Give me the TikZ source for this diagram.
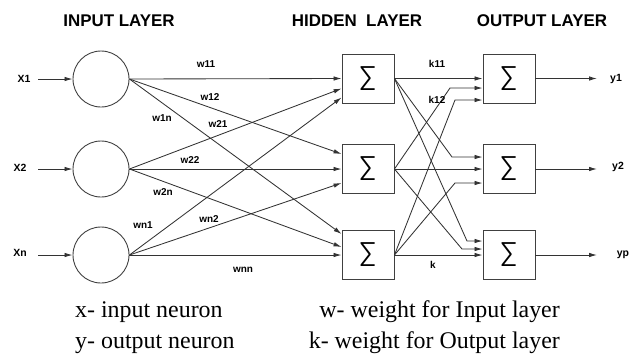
\documentclass[tikz,border=0pt]{standalone}
\usepackage{fontspec}
\setmainfont{Liberation Serif}
\setsansfont{Liberation Sans}
\newfontfamily\sigfont{Fira Sans Light}
\usetikzlibrary{arrows.meta,calc}
\begin{document}
\begin{tikzpicture}[x=1bp,y=-1bp,
  neuron/.style={circle,draw=black!75,line width=0.9bp,minimum size=56bp,inner sep=0},
  sumbox/.style={rectangle,draw=black!75,line width=0.9bp,minimum width=52bp,minimum height=49bp,inner sep=0,font=\sigfont\fontsize{35}{35}\selectfont},
  conn/.style={draw=black!80,line width=0.85bp},
  arr/.style={conn,-{Latex[length=8bp,width=4.5bp]}},
  title/.style={font=\sffamily\bfseries\fontsize{17}{17}\selectfont,inner sep=0,anchor=base},
  wlab/.style={font=\sffamily\bfseries\fontsize{10}{10}\selectfont,inner sep=0},
  iolab/.style={font=\sffamily\bfseries\fontsize{10.5}{10.5}\selectfont,inner sep=0},
  legend/.style={font=\fontsize{24}{24}\selectfont,inner sep=0}
]
\useasboundingbox (0,0) rectangle (634,358);
% titles
\node[title] (t1) at (119,26) {INPUT LAYER};
\node[title] (t2) at (357,26) {HIDDEN\ \ LAYER};
\node[title] (t3) at (542,26) {OUTPUT LAYER};
% input neurons
\node[neuron] (in1) at (101,79) {};
\node[neuron] (in2) at (101,169) {};
\node[neuron] (in3) at (101,255) {};
% hidden
\node[sumbox] (h1) at (368,78.5) {Σ};
\node[sumbox] (h2) at (368,169) {Σ};
\node[sumbox] (h3) at (368,255) {Σ};
% output
\node[sumbox] (o1) at (509,78.5) {Σ};
\node[sumbox] (o2) at (509,169) {Σ};
\node[sumbox] (o3) at (509,255) {Σ};
% input labels and arrows
\node[iolab] (x1) at (24,79) {X1};
\node[iolab] (x2) at (20,168) {X2};
\node[iolab] (xn) at (20,253) {Xn};
\coordinate (xs) at (38,0);
\foreach \n in {in1,in2,in3}
  \draw[arr] (\n.west -| xs) -- (\n.west);
% input -> hidden
\foreach \s/\t/\o in {in1/h1/0, in2/h1/-10, in3/h1/-19, in1/h2/15, in2/h2/0, in3/h2/-14, in1/h3/21, in2/h3/8, in3/h3/0}
  \draw[arr] (\s.east) -- ([yshift=\o bp]\t.west);
% hidden -> output
\coordinate (e21) at (450,88);
\coordinate (e31) at (455,100);
\coordinate (e12) at (452,157);
\coordinate (e32) at (455,183);
\coordinate (e13) at (467,241);
\coordinate (e23) at (462,249);
\draw[arr] (h1.east) -- (o1.west);
\draw[arr] (h2.east) -- (o2.west);
\draw[arr] (h3.east) -- (o3.west);
\draw[arr] (h2.east) -- (e21) -- (e21 -| o1.west);
\draw[arr] (h3.east) -- (e31) -- (e31 -| o1.west);
\draw[arr] (h1.east) -- (e12) -- (e12 -| o2.west);
\draw[arr] (h3.east) -- (e32) -- (e32 -| o2.west);
\draw[arr] (h1.east) -- (e13) -- (e13 -| o3.west);
\draw[arr] (h2.east) -- (e23) -- (e23 -| o3.west);
% outputs
\coordinate (ye) at (597,0);
\foreach \n in {o1,o2,o3}
  \draw[arr] (\n.east) -- (\n.east -| ye);
\node[iolab] (y1) at (616,79) {y1};
\node[iolab] (y2) at (618,167) {y2};
\node[iolab] (yp) at (623,255) {yp};
% weight labels
\node[wlab] (w11) at (206,64) {w11};
\node[wlab] (w12) at (210,97) {w12};
\node[wlab] (w1n) at (162,118) {w1n};
\node[wlab] (w21) at (218,124) {w21};
\node[wlab] (w22) at (190,160) {w22};
\node[wlab] (w2n) at (163,192) {w2n};
\node[wlab] (wn1) at (143,225) {wn1};
\node[wlab] (wn2) at (209,219) {wn2};
\node[wlab] (wnn) at (243,270) {wnn};
\node[wlab] (k11) at (437,64) {k11};
\node[wlab] (k12) at (437,100) {k12};
\node[wlab] (k) at (433,265) {k};
% legend
\node[legend,anchor=base west] (l1) at (75,317) {x- input neuron};
\node[legend,anchor=base west] (l2) at (75,348) {y- output neuron};
\node[legend,anchor=base east] (l3) at (560,317) {w- weight for Input layer};
\node[legend,anchor=base east] (l4) at (560,348) {k- weight for Output layer};
\end{tikzpicture}
\end{document}
